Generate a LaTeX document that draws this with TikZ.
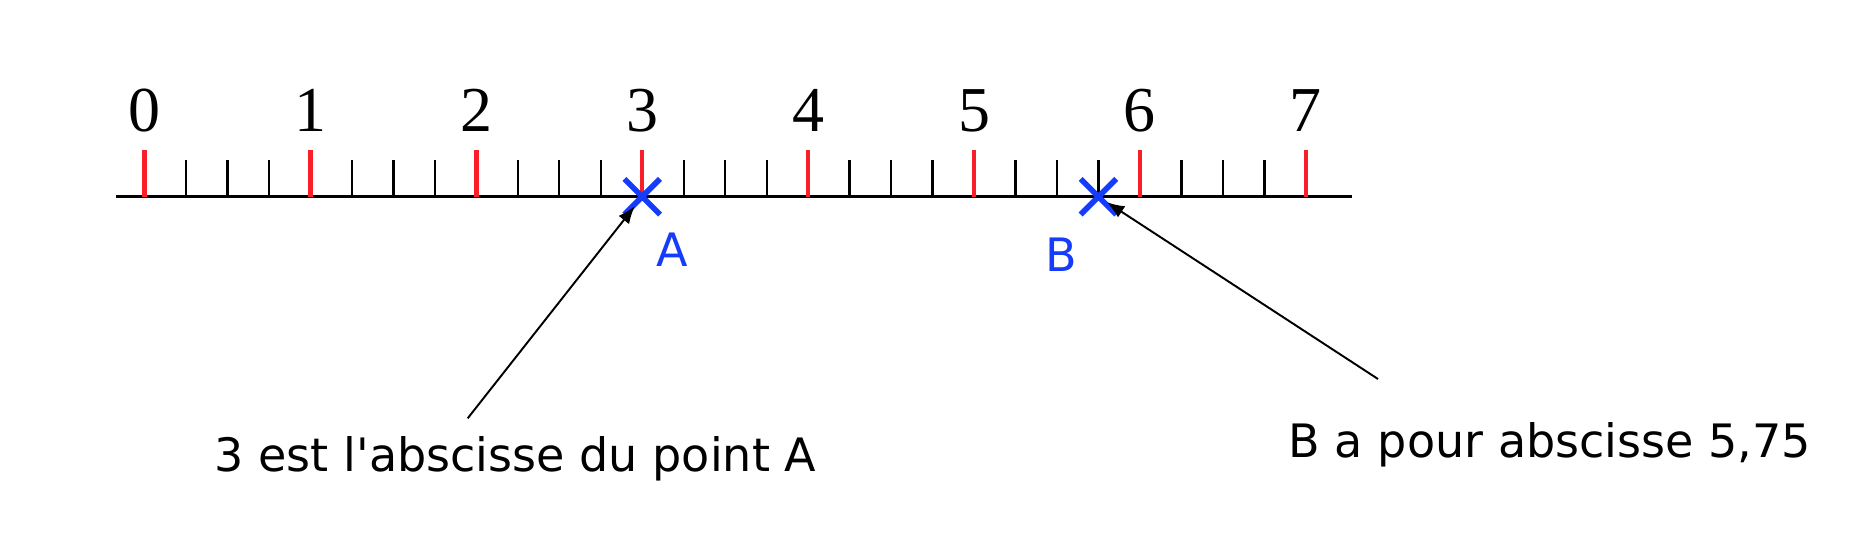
\documentclass[tikz,border=0pt]{standalone}
\usepackage{fontspec}
\setmainfont{Liberation Serif}
\newfontfamily\notefont{DejaVu Sans}
\usetikzlibrary{arrows.meta,shapes.misc}
\definecolor{tickred}{RGB}{250,30,40}
\definecolor{markblue}{RGB}{20,60,250}

\begin{document}
\begin{tikzpicture}[x=1.659cm, y=1cm,
      axis/.style={line width=0.8pt},
      major/.style={tickred, line width=1.25pt},
      minor/.style={line width=0.65pt},
      num/.style={anchor=base, inner sep=0pt,
                  font=\fontsize{18.2}{20}\selectfont},
      ptmark/.style={cross out, draw=markblue, line width=1.6pt,
                     minimum size=0.3cm, inner sep=0pt},
      ptlabel/.style={text=markblue, inner sep=0pt,
                      font=\notefont\fontsize{13.1}{15}\selectfont},
      note/.style={anchor=base west, inner sep=0pt,
                   font=\notefont\fontsize{13.1}{15}\selectfont},
      arr/.style={-{Latex[length=5pt,width=3.8pt]}, line width=0.55pt}
    ]
    \useasboundingbox (-0.871,-3.393) rectangle (10.280,1.967);

    % axis with graduations
    \draw[axis] (-0.172,0) -- (7.277,0);
    \foreach \k in {0,...,6}
      \foreach \j in {0.25,0.5,0.75}
        \draw[minor] (\k+\j,0) -- ++(0,0.37);
    \foreach \k in {0,...,7} {
      \draw[major] (\k,0) -- ++(0,0.47);
      \node[num] (n\k) at (\k,0.65) {\k};
    }

    % points A and B
    \node[ptmark] (A) at (3,0) {};
    \node[ptmark] (B) at (5.75,0) {};
    \node[ptlabel] (labA) at (3.183,-0.533) {A};
    \node[ptlabel] (labB) at (5.524,-0.583) {B};

    % comments
    \node[note] (noteA) at (0.419,-2.75) {3 est l'abscisse du point A};
    \node[note] (noteB) at (6.893,-2.603) {B a pour abscisse 5,75};
    \coordinate (pA) at (1.948,-2.216);
    \coordinate (pB) at (7.435,-1.823);

    \draw[arr, shorten >=0.12cm] (pA) -- (A.center);
    \draw[arr, shorten >=0.10cm] (pB) -- (B.center);
  \end{tikzpicture}
\end{document}
